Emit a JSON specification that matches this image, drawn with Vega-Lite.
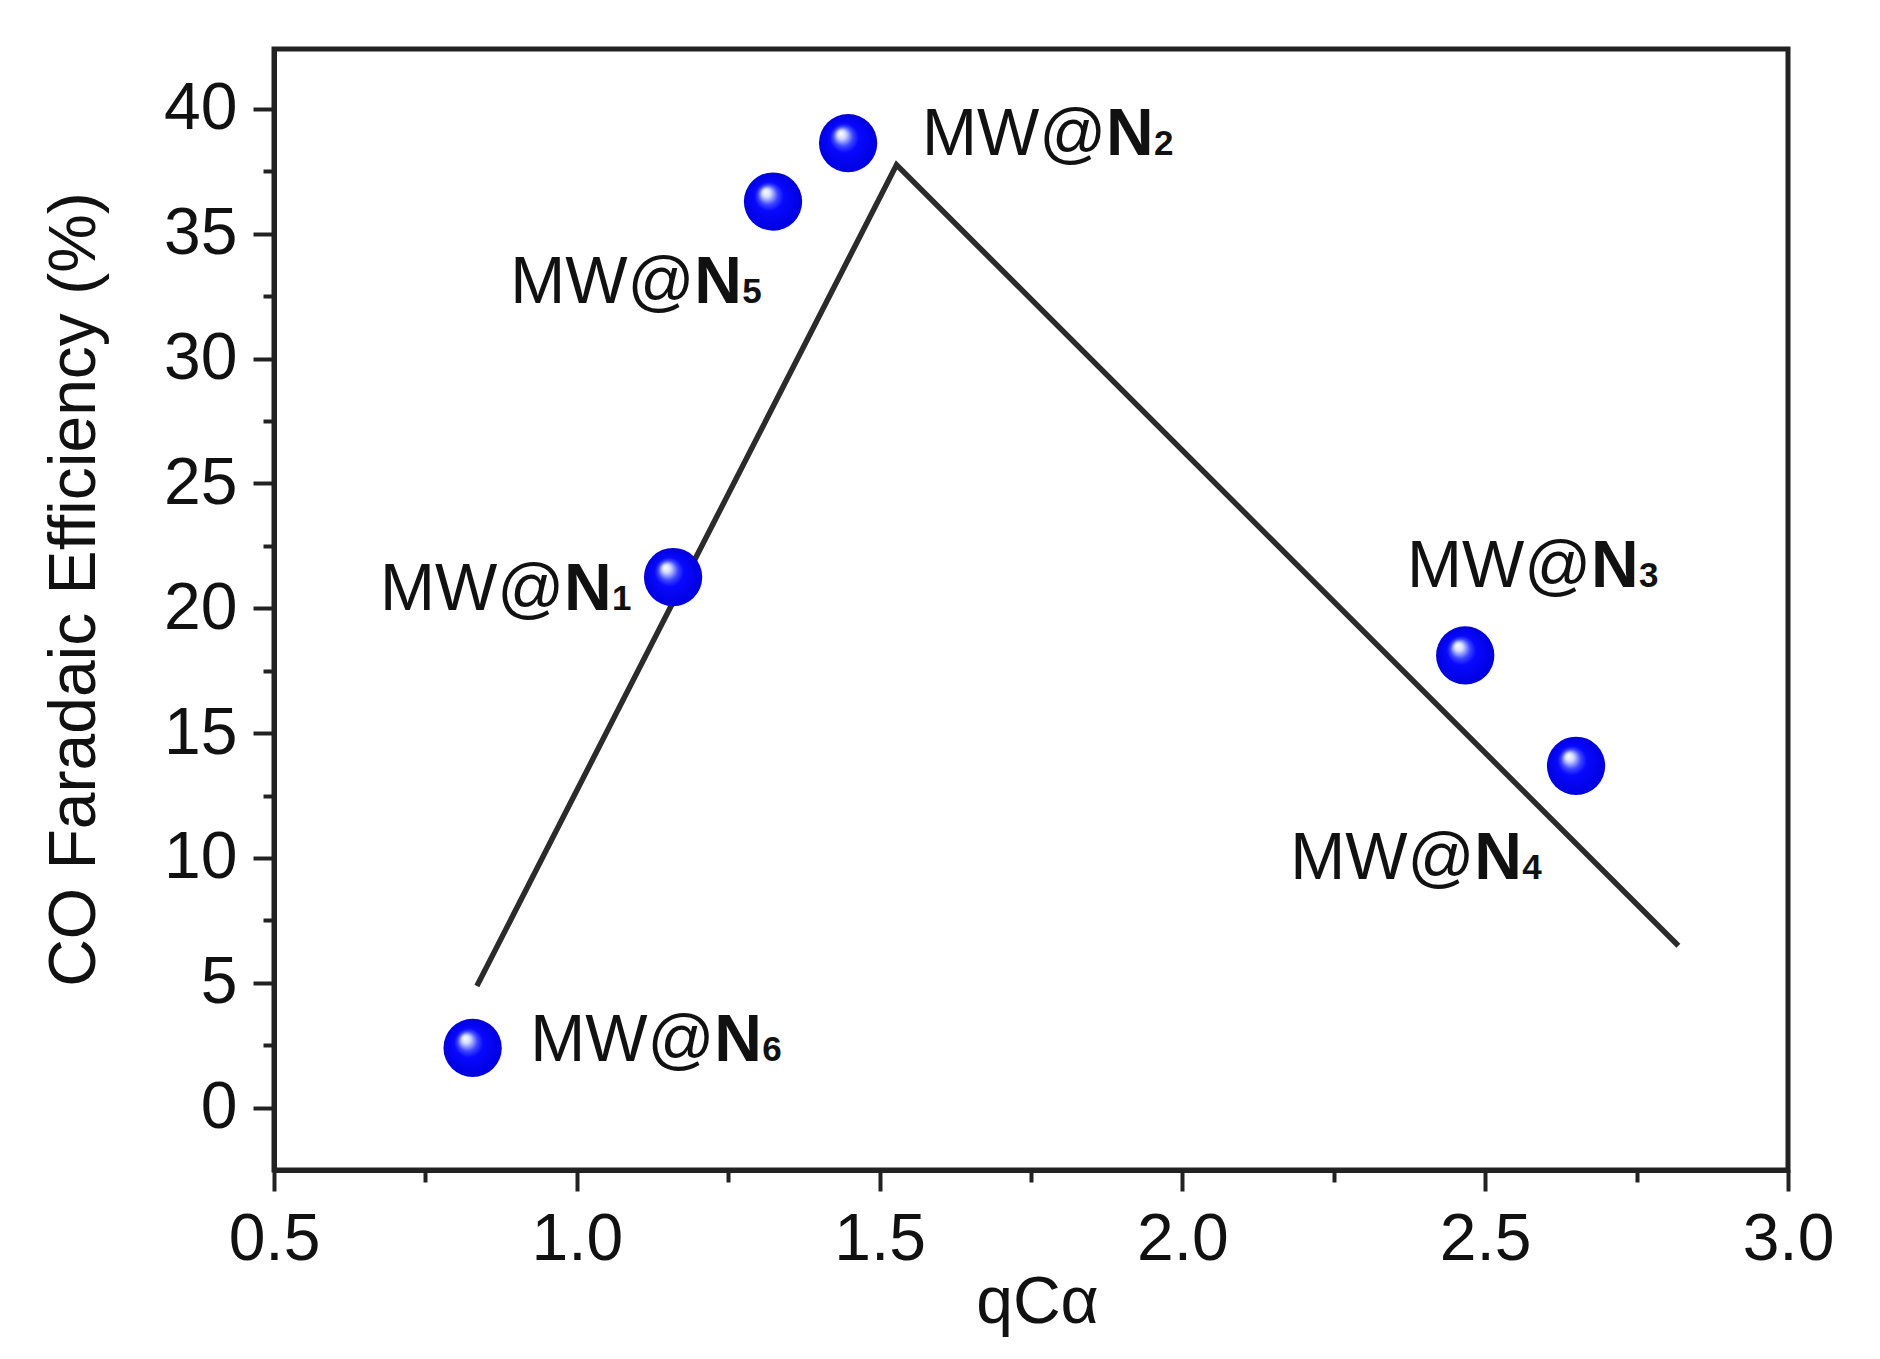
{
  "$schema": "https://vega.github.io/schema/vega-lite/v6.json",
  "description": "CO Faradaic efficiency versus qC-alpha for the MW@N samples",
  "autosize": {"type": "none"},
  "padding": {"left": 274, "top": 49, "right": 92, "bottom": 189},
  "width": 1514,
  "height": 1121,
  "background": "white",
  "datasets": {
    "trend": [
      {"qca": 0.835, "fe": 4.87},
      {"qca": 1.528, "fe": 37.76},
      {"qca": 2.819, "fe": 6.48}
    ],
    "samples": [
      {"sample": "1", "qca": 1.159, "fe": 21.25, "lx": 0.675, "ly": 19.94},
      {"sample": "2", "qca": 1.448, "fe": 38.63, "lx": 1.570, "ly": 38.16},
      {"sample": "3", "qca": 2.467, "fe": 18.11, "lx": 2.371, "ly": 20.85},
      {"sample": "4", "qca": 2.650, "fe": 13.69, "lx": 2.178, "ly": 9.15},
      {"sample": "5", "qca": 1.324, "fe": 36.29, "lx": 0.890, "ly": 32.21},
      {"sample": "6", "qca": 0.828, "fe": 2.39, "lx": 0.923, "ly": 1.86}
    ]
  },
  "resolve": {"axis": {"x": "independent", "y": "independent"}},
  "layer": [
    {
      "data": {"name": "trend"},
      "mark": {"type": "line", "color": "#2b2b2b", "strokeWidth": 5.5},
      "encoding": {
        "x": {
          "field": "qca", "type": "quantitative",
          "scale": {"domain": [0.5, 3.0], "nice": false, "zero": false},
          "axis": {
            "orient": "bottom", "title": "qCα",
            "values": [0.5, 1.0, 1.5, 2.0, 2.5, 3.0], "format": ".1f",
            "tickSize": 21, "labelPadding": 16,
            "titleX": 763, "titleY": 152, "titleBaseline": "alphabetic", "titleAlign": "center"
          }
        },
        "y": {
          "field": "fe", "type": "quantitative",
          "scale": {"domain": [-2.5, 42.4], "nice": false, "zero": false},
          "axis": {
            "orient": "left", "title": "CO Faradaic Efficiency (%)",
            "values": [0, 5, 10, 15, 20, 25, 30, 35, 40], "format": "d",
            "tickSize": 21, "labelPadding": 16,
            "titleX": -180, "titleY": 540, "titleAngle": 270,
            "titleBaseline": "alphabetic", "titleAlign": "center"
          }
        }
      }
    },
    {
      "data": {"name": "samples"},
      "mark": {
        "type": "circle", "size": 3400, "opacity": 1, "filled": true,
        "fill": {
          "gradient": "radial",
          "x1": 0.37, "y1": 0.33, "r1": 0,
          "x2": 0.5, "y2": 0.5, "r2": 0.5,
          "stops": [
            {"offset": 0, "color": "#ffffff"},
            {"offset": 0.14, "color": "#d4dcff"},
            {"offset": 0.34, "color": "#3c46ff"},
            {"offset": 0.5, "color": "#0808ff"},
            {"offset": 1, "color": "#0000dd"}
          ]
        }
      },
      "encoding": {
        "x": {
          "field": "qca", "type": "quantitative",
          "scale": {"domain": [0.5, 3.0], "nice": false, "zero": false},
          "axis": {
            "orient": "bottom", "title": null, "labels": false, "domain": false,
            "values": [0.75, 1.25, 1.75, 2.25, 2.75], "tickSize": 12
          }
        },
        "y": {
          "field": "fe", "type": "quantitative",
          "scale": {"domain": [-2.5, 42.4], "nice": false, "zero": false},
          "axis": {
            "orient": "left", "title": null, "labels": false, "domain": false,
            "values": [2.5, 7.5, 12.5, 17.5, 22.5, 27.5, 32.5, 37.5], "tickSize": 11
          }
        }
      }
    },
    {
      "data": {"name": "samples"},
      "mark": {"type": "text", "align": "left", "baseline": "alphabetic", "fontSize": 66, "color": "#111111"},
      "encoding": {
        "x": {"field": "lx", "type": "quantitative", "scale": {"domain": [0.5, 3.0], "nice": false, "zero": false}, "axis": null},
        "y": {"field": "ly", "type": "quantitative", "scale": {"domain": [-2.5, 42.4], "nice": false, "zero": false}, "axis": null},
        "text": {"value": "MW@"}
      }
    },
    {
      "data": {"name": "samples"},
      "mark": {"type": "text", "align": "left", "baseline": "alphabetic", "fontSize": 66, "fontWeight": "bold", "dx": 184, "color": "#111111"},
      "encoding": {
        "x": {"field": "lx", "type": "quantitative", "scale": {"domain": [0.5, 3.0], "nice": false, "zero": false}, "axis": null},
        "y": {"field": "ly", "type": "quantitative", "scale": {"domain": [-2.5, 42.4], "nice": false, "zero": false}, "axis": null},
        "text": {"value": "N"}
      }
    },
    {
      "data": {"name": "samples"},
      "mark": {"type": "text", "align": "left", "baseline": "alphabetic", "fontSize": 35, "fontWeight": "bold", "dx": 232, "color": "#111111"},
      "encoding": {
        "x": {"field": "lx", "type": "quantitative", "scale": {"domain": [0.5, 3.0], "nice": false, "zero": false}, "axis": null},
        "y": {"field": "ly", "type": "quantitative", "scale": {"domain": [-2.5, 42.4], "nice": false, "zero": false}, "axis": null},
        "text": {"field": "sample"}
      }
    }
  ],
  "config": {
    "font": "Liberation Sans",
    "view": {"stroke": "#222222", "strokeWidth": 5},
    "axis": {
      "grid": false,
      "domainColor": "#222222", "domainWidth": 5,
      "tickColor": "#222222", "tickWidth": 4,
      "labelFont": "Liberation Sans", "labelFontSize": 66, "labelColor": "#111111",
      "labelFlush": false, "labelOverlap": false,
      "titleFont": "Liberation Sans", "titleFontSize": 66, "titleFontWeight": "normal", "titleColor": "#111111"
    }
  }
}
